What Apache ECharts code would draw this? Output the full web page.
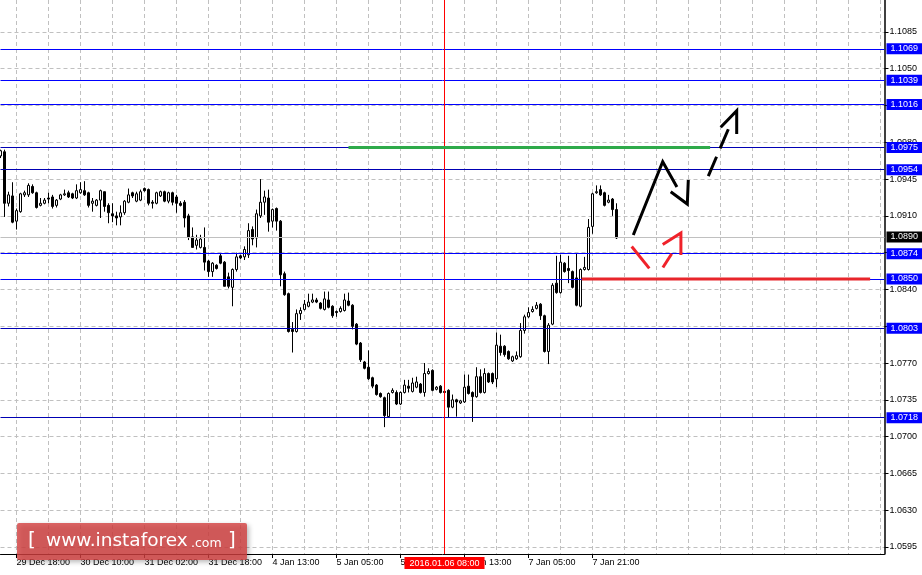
<!DOCTYPE html>
<html><head><meta charset="utf-8">
<script src="https://cdn.jsdelivr.net/npm/echarts@6/dist/echarts.min.js"></script>
<style>html,body{margin:0;padding:0;background:#fff}#c{width:922px;height:575px}</style>
</head><body><div id="c"></div>
<script>
// ---- time axis labels (one every 16 hourly bars, first on bar 4) ----
const timeLabels = ['29 Dec 18:00','30 Dec 10:00','31 Dec 02:00','31 Dec 18:00','4 Jan 13:00','5 Jan 05:00','5 Jan 21:00','6 Jan 13:00','7 Jan 05:00','7 Jan 21:00'];
const firstLabelBar = 4, labelStep = 16, gridStep = 8, totalSlots = 222;

// ---- EURUSD H1 candles ----
const opens = [1.0967,1.0971,1.0922,1.0929,1.0905,1.0914,1.0930,1.0930,1.0938,1.0932,1.0920,1.0922,1.0927,1.0928,1.0920,1.0926,1.0930,1.0932,1.0931,1.0927,1.0932,1.0934,1.0932,1.0922,1.0920,1.0925,1.0933,1.0920,1.0912,1.0910,1.0909,1.0913,1.0923,1.0932,1.0924,1.0925,1.0936,1.0935,1.0923,1.0922,1.0929,1.0933,1.0924,1.0932,1.0928,1.0922,1.0923,1.0910,1.0890,1.0882,1.0880,1.0880,1.0867,1.0857,1.0863,1.0872,1.0866,1.0852,1.0842,1.0859,1.0872,1.0871,1.0873,1.0897,1.0889,1.0910,1.0923,1.0927,1.0905,1.0917,1.0905,1.0855,1.0836,1.0802,1.0800,1.0817,1.0821,1.0824,1.0828,1.0830,1.0827,1.0821,1.0830,1.0824,1.0819,1.0819,1.0820,1.0829,1.0825,1.0807,1.0789,1.0771,1.0766,1.0756,1.0749,1.0741,1.0737,1.0719,1.0742,1.0742,1.0731,1.0742,1.0748,1.0743,1.0747,1.0750,1.0742,1.0760,1.0763,1.0745,1.0748,1.0743,1.0744,1.0728,1.0735,1.0732,1.0733,1.0748,1.0742,1.0738,1.0757,1.0742,1.0760,1.0760,1.0755,1.0786,1.0786,1.0781,1.0772,1.0774,1.0776,1.0801,1.0814,1.0819,1.0822,1.0826,1.0815,1.0781,1.0807,1.0846,1.0837,1.0865,1.0860,1.0857,1.0851,1.0824,1.0859,1.0859,1.0900,1.0932,1.0935,1.0932,1.0923,1.0926,1.0916];
const closes = [1.0972,1.0922,1.0930,1.0904,1.0915,1.0931,1.0932,1.0939,1.0932,1.0918,1.0922,1.0925,1.0926,1.0919,1.0925,1.0930,1.0931,1.0928,1.0927,1.0934,1.0935,1.0930,1.0920,1.0924,1.0925,1.0934,1.0919,1.0913,1.0910,1.0908,1.0913,1.0924,1.0930,1.0929,1.0931,1.0933,1.0934,1.0922,1.0922,1.0932,1.0933,1.0924,1.0932,1.0923,1.0922,1.0920,1.0908,1.0890,1.0880,1.0887,1.0888,1.0866,1.0857,1.0865,1.0860,1.0865,1.0843,1.0843,1.0859,1.0871,1.0870,1.0878,1.0896,1.0888,1.0912,1.0923,1.0928,1.0904,1.0916,1.0905,1.0854,1.0835,1.0800,1.0800,1.0817,1.0820,1.0826,1.0828,1.0830,1.0828,1.0822,1.0831,1.0823,1.0815,1.0818,1.0822,1.0830,1.0825,1.0805,1.0788,1.0773,1.0765,1.0755,1.0748,1.0740,1.0738,1.0720,1.0741,1.0744,1.0731,1.0742,1.0749,1.0746,1.0751,1.0752,1.0742,1.0760,1.0762,1.0744,1.0747,1.0742,1.0742,1.0728,1.0735,1.0733,1.0734,1.0747,1.0741,1.0738,1.0757,1.0742,1.0760,1.0752,1.0752,1.0787,1.0780,1.0778,1.0774,1.0776,1.0777,1.0801,1.0814,1.0818,1.0821,1.0825,1.0815,1.0781,1.0806,1.0844,1.0837,1.0866,1.0857,1.0858,1.0842,1.0825,1.0859,1.0861,1.0899,1.0931,1.0933,1.0930,1.0920,1.0925,1.0916,1.0889];
const highs = [1.0973,1.0973,1.0933,1.0942,1.0917,1.0932,1.0934,1.0941,1.0940,1.0933,1.0927,1.0927,1.0932,1.0930,1.0926,1.0931,1.0935,1.0934,1.0932,1.0940,1.0942,1.0943,1.0933,1.0927,1.0926,1.0935,1.0933,1.0922,1.0922,1.0914,1.0920,1.0925,1.0936,1.0933,1.0933,1.0935,1.0937,1.0936,1.0925,1.0933,1.0934,1.0934,1.0933,1.0933,1.0930,1.0924,1.0925,1.0912,1.0899,1.0892,1.0892,1.0899,1.0868,1.0866,1.0864,1.0874,1.0867,1.0856,1.0860,1.0875,1.0873,1.0881,1.0903,1.0900,1.0916,1.0945,1.0934,1.0935,1.0917,1.0918,1.0906,1.0857,1.0837,1.0809,1.0821,1.0823,1.0830,1.0836,1.0836,1.0832,1.0828,1.0838,1.0838,1.0825,1.0820,1.0824,1.0836,1.0837,1.0826,1.0808,1.0790,1.0772,1.0782,1.0757,1.0750,1.0742,1.0738,1.0742,1.0746,1.0744,1.0743,1.0754,1.0754,1.0756,1.0757,1.0751,1.0770,1.0765,1.0764,1.0748,1.0749,1.0754,1.0745,1.0740,1.0736,1.0735,1.0759,1.0759,1.0743,1.0766,1.0764,1.0765,1.0761,1.0761,1.0799,1.0797,1.0787,1.0782,1.0777,1.0781,1.0808,1.0816,1.0823,1.0824,1.0828,1.0827,1.0816,1.0808,1.0846,1.0872,1.0873,1.0866,1.0872,1.0858,1.0874,1.0860,1.0871,1.0907,1.0932,1.0939,1.0939,1.0933,1.0930,1.0927,1.0922];
const lows = [1.0965,1.0909,1.0919,1.0903,1.0897,1.0913,1.0928,1.0928,1.0931,1.0917,1.0919,1.0921,1.0922,1.0917,1.0918,1.0925,1.0929,1.0927,1.0926,1.0926,1.0931,1.0929,1.0918,1.0914,1.0919,1.0908,1.0914,1.0903,1.0904,1.0901,1.0901,1.0911,1.0922,1.0927,1.0923,1.0924,1.0933,1.0920,1.0917,1.0921,1.0928,1.0923,1.0922,1.0920,1.0913,1.0919,1.0899,1.0887,1.0880,1.0878,1.0879,1.0858,1.0852,1.0852,1.0859,1.0864,1.0843,1.0841,1.0824,1.0857,1.0869,1.0868,1.0870,1.0882,1.0880,1.0908,1.0911,1.0895,1.0899,1.0896,1.0843,1.0834,1.0799,1.0780,1.0799,1.0811,1.0820,1.0823,1.0827,1.0827,1.0821,1.0820,1.0822,1.0813,1.0814,1.0818,1.0819,1.0824,1.0802,1.0787,1.0771,1.0764,1.0754,1.0746,1.0739,1.0737,1.0709,1.0718,1.0741,1.0730,1.0730,1.0741,1.0742,1.0742,1.0746,1.0741,1.0738,1.0759,1.0743,1.0744,1.0741,1.0741,1.0718,1.0727,1.0719,1.0731,1.0732,1.0740,1.0714,1.0737,1.0741,1.0741,1.0751,1.0750,1.0747,1.0777,1.0776,1.0773,1.0771,1.0773,1.0775,1.0798,1.0813,1.0818,1.0821,1.0811,1.0780,1.0769,1.0806,1.0836,1.0836,1.0856,1.0846,1.0841,1.0824,1.0823,1.0858,1.0858,1.0893,1.0931,1.0929,1.0919,1.0922,1.0910,1.0888];

// ---- price scale ----
const yTicks = [1.0595,1.0630,1.0665,1.0700,1.0735,1.0770,1.0805,1.0840,1.0875,1.0910,1.0945,1.0980,1.1015,1.1050,1.1085];
const yMin = 1.05883, yMax = 1.11154;

// ---- horizontal levels ----
const levelsBright = [1.1069,1.1039,1.1016,1.0874,1.0850];
const levelsDark = [1.0975,1.0954,1.0803,1.0718];
const bidPrice = 1.0890;
const markerBar = 111, markerLabel = '2016.01.06 08:00';

// ---- drawn objects (bar index, price) ----
const greenLevel = [[87,1.0975],[177.4,1.0975]];
const redLevel = [[145.3,1.0850],[217.4,1.0850]];
const blackPath = [[158.2,1.08918],[165.55,1.09615],[169.1,1.09375]];
const blackHead = [[167.55,1.0933],[171.7,1.09213],[171.95,1.09441]];
const dashShaft = [[176.95,1.09479],[181.95,1.09924]];
const dashHead = [[180.05,1.09943],[184.05,1.10101],[184.05,1.09879]];
const redA = [[157.8,1.08809],[162.2,1.08601]];
const redB = [[165.6,1.08609],[167.8,1.0874]];
const redHead = [[165.55,1.08828],[170.1,1.08937],[170.1,1.08728]];

const FONT = 'Liberation Sans';
const categories = [];
for (let i = 0; i < totalSlots; i++) {
  const k = (i - firstLabelBar) / labelStep;
  categories.push(Number.isInteger(k) && k >= 0 && k < timeLabels.length ? timeLabels[k] : 'b' + i);
}
const isLabelBar = i => { const k = (i - firstLabelBar) / labelStep; return Number.isInteger(k) && k >= 0 && k < timeLabels.length; };
const candles = opens.map((o, i) => [o, closes[i], lows[i], highs[i]]);

const tagLabel = (text, bg) => ({ show: true, position: 'end', distance: 2, formatter: text, color: '#fff',
  backgroundColor: bg, padding: [1, 4, 0, 4], fontSize: 9, fontFamily: FONT, lineHeight: 10 });
const markData = [];
levelsDark.forEach(v => markData.push({ yAxis: v, lineStyle: { color: '#0000b4', width: 1, type: 'solid' }, label: tagLabel(v.toFixed(4), '#0000ff') }));
levelsBright.forEach(v => markData.push({ yAxis: v, lineStyle: { color: '#0000ff', width: 1, type: 'solid' }, label: tagLabel(v.toFixed(4), '#0000ff') }));
markData.push({ yAxis: bidPrice, lineStyle: { color: '#c0c0c0', width: 1, type: 'solid' }, label: tagLabel(bidPrice.toFixed(4), '#000') });
markData.push({ xAxis: markerBar, lineStyle: { color: '#ff0000', width: 1, type: 'solid' },
  label: { show: true, position: 'start', distance: 3, formatter: markerLabel, color: '#fff',
    backgroundColor: '#ff0000', padding: [2, 5, 1, 5], fontSize: 9, fontFamily: FONT } });

function drawn(data, color, width, dash) {
  return { type: 'line', xAxisIndex: 1, yAxisIndex: 0, data: data, symbol: 'none', silent: true,
    lineStyle: { color: color, width: width, type: dash || 'solid', cap: 'butt', join: 'miter' }, z: 6 };
}

const chart = echarts.init(document.getElementById('c'), null, { renderer: 'canvas' });
chart.setOption({
  animation: false,
  backgroundColor: '#fff',
  grid: { left: 0.5, right: 37.5, top: 0, bottom: 21, containLabel: false },
  xAxis: [{
    type: 'category', data: categories, boundaryGap: false,
    axisLine: { show: true, onZero: false, lineStyle: { color: '#000', width: 1 } },
    axisTick: { show: true, interval: (i) => isLabelBar(i), length: 4, lineStyle: { color: '#000' } },
    axisLabel: { show: true, interval: (i) => isLabelBar(i), align: 'left', margin: 4, fontSize: 9,
      fontFamily: FONT, color: '#000' },
    splitLine: { show: true, interval: (i) => (i - firstLabelBar) % gridStep === 0,
      lineStyle: { color: '#c0c0c0', type: [4, 3], width: 1 } }
  }, {
    type: 'value', min: 0, max: totalSlots - 1, show: false
  }],
  yAxis: [{
    type: 'value', position: 'right', min: yMin, max: yMax, scale: true,
    axisLine: { show: true, onZero: false, lineStyle: { color: '#000', width: 1.5 } },
    axisTick: { show: true, customValues: yTicks, length: 4, lineStyle: { color: '#000' } },
    axisLabel: { show: true, customValues: yTicks, formatter: v => v.toFixed(4), margin: 5,
      fontSize: 9, fontFamily: FONT, color: '#000' },
    splitLine: { show: true, lineStyle: { color: '#c0c0c0', type: [4, 3], width: 1 } }
  }],
  series: [
    { type: 'candlestick', xAxisIndex: 0, yAxisIndex: 0, data: candles, barWidth: 2,
      itemStyle: { color: '#ffffff', color0: '#000000', borderColor: '#000000', borderColor0: '#000000', borderWidth: 1 }, z: 3 },
    { type: 'line', xAxisIndex: 1, yAxisIndex: 0, data: [[0, yMin]], symbol: 'none', silent: true,
      lineStyle: { width: 0 }, z: 4,
      markLine: { symbol: 'none', silent: true, animation: false, precision: 5, data: markData } },
    drawn(greenLevel, '#2eaa4a', 3),
    drawn(redLevel, '#e8252b', 3),
    drawn(blackPath, '#000', 3),
    drawn(blackHead, '#000', 3),
    drawn(dashShaft, '#000', 3, [21, 9]),
    drawn(dashHead, '#000', 3),
    drawn(redA, '#f0222a', 3),
    drawn(redB, '#f0222a', 3),
    drawn(redHead, '#f0222a', 3)
  ],
  graphic: [
    { type: 'rect', z: 100, shape: { x: 17, y: 523, width: 230, height: 37, r: 2 },
      style: { fill: 'rgba(212,64,64,0.8)', shadowBlur: 5, shadowColor: 'rgba(0,0,0,0.35)', shadowOffsetX: 2, shadowOffsetY: 2 } },
    { type: 'text', z: 101, x: 28, y: 541, style: { text: '[', fill: '#fff', font: '20px "DejaVu Sans"', verticalAlign: 'middle' } },
    { type: 'text', z: 101, x: 46, y: 541, style: { text: 'www.instaforex', fill: '#fff', font: '18.5px "DejaVu Sans"', verticalAlign: 'middle' } },
    { type: 'text', z: 101, x: 191, y: 544, style: { text: '.com', fill: '#fff', font: '12.5px "DejaVu Sans"', verticalAlign: 'middle' } },
    { type: 'text', z: 101, x: 228, y: 541, style: { text: ']', fill: '#fff', font: '20px "DejaVu Sans"', verticalAlign: 'middle' } }
  ]
});
</script></body></html>
